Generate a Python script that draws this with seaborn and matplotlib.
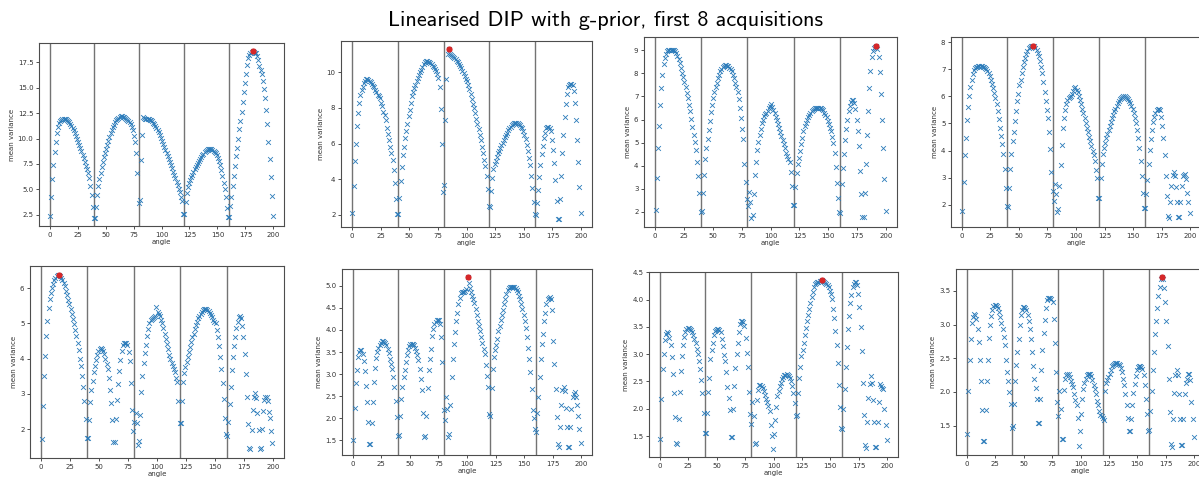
import numpy as np
import matplotlib
matplotlib.use("Agg")
import matplotlib.pyplot as plt
import seaborn as sns

# ---------------- data ----------------
title = "Linearised DIP with g-prior, first 8 acquisitions"
x_label = "angle"
y_label = "mean variance"
angles = np.arange(200) + 0.5
acq_boundaries = [0, 40, 80, 120, 160]
x_ticks = [0, 25, 50, 75, 100, 125, 150, 175, 200]

acq1 = [
    2.4, 4.2, 6.0, 7.4, 8.7, 9.7, 10.5, 11.1, 11.5, 11.7,
    11.8, 11.9, 11.95, 11.95, 11.9, 11.85, 11.75, 11.6, 11.45, 11.25,
    11.05, 10.8, 10.55, 10.3, 10.0, 9.7, 9.4, 9.1, 8.75, 8.4,
    8.05, 7.7, 7.3, 7.0, 6.6, 6.1, 5.3, 4.4, 3.3, 2.2,
    2.2, 3.3, 4.4, 5.3, 6.0, 6.6, 7.2, 7.7, 8.2, 8.6,
    9.0, 9.4, 9.8, 10.15, 10.5, 10.8, 11.1, 11.35, 11.6, 11.8,
    11.95, 12.05, 12.15, 12.2, 12.2, 12.15, 12.1, 12.0, 11.9, 11.85,
    11.75, 11.6, 11.4, 11.15, 10.8, 10.3, 9.7, 8.6, 6.6, 3.6,
    3.9, 7.9, 10.4, 12.1, 12.0, 11.95, 11.9, 11.9, 11.9, 11.85,
    11.8, 11.7, 11.55, 11.4, 11.2, 11.0, 10.8, 10.6, 10.35, 10.05,
    9.75, 9.45, 9.15, 8.85, 8.55, 8.25, 7.95, 7.65, 7.35, 7.05,
    6.75, 6.45, 6.1, 5.75, 5.4, 5.05, 4.7, 4.2, 3.8, 2.6,
    2.6, 3.7, 4.6, 5.2, 5.6, 5.9, 6.2, 6.45, 6.7, 6.95,
    7.2, 7.4, 7.6, 7.8, 8.0, 8.2, 8.35, 8.5, 8.65, 8.8,
    8.9, 8.95, 9.0, 9.0, 8.95, 8.9, 8.8, 8.7, 8.55, 8.35,
    8.1, 7.8, 7.4, 6.9, 6.3, 5.6, 5.0, 4.2, 3.2, 2.3,
    2.3, 3.35, 4.25, 5.3, 6.3, 7.3, 8.25, 9.1, 10.0, 10.9,
    11.75, 12.65, 13.65, 14.55, 15.5, 16.4, 17.25, 17.9, 18.25, 18.45,
    18.55, 18.6, 18.5, 18.45, 18.4, 18.1, 17.7, 17.2, 16.8, 16.4,
    15.7, 14.9, 14.0, 12.85, 11.4, 9.7, 8.0, 6.2, 4.3, 2.4,
]
acq2 = [
    2.1, 3.6, 5.0, 6.0, 7.0, 7.7, 8.3, 8.7, 9.0, 9.2,
    9.4, 9.5, 9.6, 9.6, 9.55, 9.5, 9.45, 9.35, 9.25, 9.15,
    9.0, 8.9, 8.75, 8.65, 8.55, 8.3, 8.1, 7.8, 7.6, 7.3,
    6.9, 6.55, 6.2, 5.8, 5.5, 5.1, 4.5, 3.8, 2.9, 2.05,
    2.05, 2.95, 3.9, 4.7, 5.35, 5.8, 6.3, 6.7, 7.1, 7.55,
    7.9, 8.3, 8.65, 8.9, 9.1, 9.3, 9.5, 9.7, 9.85, 10.0,
    10.15, 10.3, 10.45, 10.6, 10.65, 10.65, 10.6, 10.55, 10.5, 10.45,
    10.35, 10.3, 10.2, 10.05, 9.9, 9.7, 9.2, 7.95, 6.0, 3.3,
    3.7, 7.3, 9.65, 11.05, 11.28, 11.05, 10.95, 10.9, 10.85, 10.8,
    10.75, 10.65, 10.55, 10.45, 10.35, 10.25, 10.1, 9.95, 9.8, 9.65,
    9.5, 9.3, 9.05, 8.8, 8.5, 8.2, 8.0, 7.7, 7.4, 7.1,
    6.8, 6.5, 6.2, 5.8, 5.45, 5.1, 4.75, 4.2, 3.45, 2.5,
    2.45, 3.35, 4.1, 4.6, 4.85, 5.05, 5.25, 5.45, 5.6, 5.75,
    5.9, 6.05, 6.2, 6.35, 6.5, 6.6, 6.75, 6.85, 6.95, 7.05,
    7.1, 7.15, 7.15, 7.15, 7.15, 7.1, 7.05, 6.95, 6.85, 6.7,
    6.5, 6.25, 5.95, 5.6, 5.2, 4.8, 4.2, 3.5, 2.7, 2.05,
    2.0, 2.65, 3.4, 4.15, 4.8, 5.4, 5.85, 6.3, 6.6, 6.85,
    6.95, 6.95, 6.9, 6.7, 6.2, 5.65, 4.9, 3.95, 2.8, 1.8,
    1.8, 2.9, 4.2, 5.45, 6.5, 7.5, 8.2, 8.8, 9.2, 9.3,
    9.35, 9.35, 9.3, 8.95, 8.3, 7.3, 6.2, 4.95, 3.55, 2.1,
]
acq3 = [
    2.07, 3.48, 4.78, 5.74, 6.65, 7.37, 7.95, 8.4, 8.67, 8.85,
    8.95, 9.0, 9.03, 9.03, 9.03, 9.03, 9.0, 8.95, 8.88, 8.77,
    8.6, 8.45, 8.24, 8.02, 7.83, 7.63, 7.4, 7.15, 6.94, 6.65,
    6.36, 6.03, 5.69, 5.31, 5.04, 4.68, 4.17, 3.55, 2.8, 2.0,
    2.04, 2.8, 3.6, 4.27, 4.78, 5.15, 5.55, 5.95, 6.32, 6.65,
    6.95, 7.2, 7.4, 7.6, 7.78, 7.95, 8.1, 8.2, 8.28, 8.33,
    8.35, 8.35, 8.33, 8.3, 8.25, 8.18, 8.08, 7.95, 7.8, 7.6,
    7.4, 7.2, 6.87, 6.5, 6.05, 5.6, 5.14, 4.09, 3.3, 2.57,
    2.25, 2.85, 2.45, 1.72, 1.85, 2.76, 3.6, 4.16, 4.66, 5.02,
    5.31, 5.6, 5.85, 6.0, 6.15, 6.22, 6.28, 6.35, 6.5, 6.6,
    6.68, 6.55, 6.42, 6.28, 6.12, 5.97, 5.8, 5.62, 5.45, 5.27,
    5.1, 4.92, 4.75, 4.57, 4.42, 4.28, 4.16, 3.73, 3.1, 2.3,
    2.3, 3.08, 3.67, 4.06, 4.35, 4.63, 4.92, 5.2, 5.5, 5.7,
    5.85, 6.0, 6.1, 6.2, 6.3, 6.35, 6.4, 6.45, 6.48, 6.5,
    6.5, 6.5, 6.5, 6.48, 6.45, 6.4, 6.3, 6.2, 6.1, 5.95,
    5.8, 5.65, 5.5, 5.25, 5.0, 4.56, 3.95, 3.27, 2.62, 1.99,
    1.97, 3.19, 3.88, 4.52, 5.1, 5.57, 6.0, 6.36, 6.6, 6.75,
    6.84, 6.84, 6.7, 6.45, 6.0, 5.5, 4.85, 3.77, 2.76, 1.78,
    1.78, 2.84, 4.06, 5.31, 6.36, 7.37, 8.09, 8.7, 8.95, 9.1,
    9.15, 9.2, 9.05, 8.71, 8.05, 7.11, 6.0, 4.78, 3.41, 2.04,
]
acq4 = [
    1.79, 2.83, 3.82, 4.47, 5.12, 5.6, 6.0, 6.33, 6.6, 6.82,
    6.96, 7.04, 7.08, 7.1, 7.12, 7.13, 7.13, 7.12, 7.1, 7.08,
    7.05, 7.0, 6.93, 6.85, 6.75, 6.6, 6.45, 6.3, 6.12, 5.94,
    5.7, 5.45, 5.15, 4.85, 4.55, 4.25, 3.88, 3.33, 2.63, 1.95,
    1.93, 2.63, 3.33, 3.88, 4.34, 4.7, 5.08, 5.45, 5.82, 6.1,
    6.4, 6.6, 6.86, 7.08, 7.26, 7.41, 7.57, 7.69, 7.78, 7.83,
    7.85, 7.86, 7.87, 7.84, 7.78, 7.7, 7.6, 7.47, 7.3, 7.1,
    6.86, 6.52, 6.16, 5.82, 5.5, 5.2, 4.7, 4.04, 3.2, 2.5,
    2.14, 2.75, 2.4, 1.73, 1.83, 2.69, 3.45, 4.22, 4.83, 5.2,
    5.5, 5.73, 5.88, 5.94, 5.96, 6.0, 6.1, 6.2, 6.3, 6.34,
    6.25, 6.15, 6.02, 5.88, 5.72, 5.55, 5.38, 5.2, 5.02, 4.85,
    4.68, 4.5, 4.35, 4.16, 4.0, 3.82, 3.6, 3.3, 3.0, 2.25,
    2.25, 3.0, 3.52, 3.87, 4.1, 4.28, 4.45, 4.6, 4.77, 4.9,
    5.05, 5.2, 5.3, 5.45, 5.55, 5.66, 5.76, 5.84, 5.9, 5.95,
    5.98, 6.0, 6.0, 5.98, 5.95, 5.9, 5.84, 5.75, 5.65, 5.55,
    5.4, 5.2, 5.0, 4.77, 4.47, 4.1, 3.6, 3.05, 2.45, 1.88,
    1.89, 2.4, 2.9, 3.51, 4.01, 4.43, 4.77, 5.04, 5.24, 5.39,
    5.51, 5.55, 5.55, 5.51, 5.24, 4.92, 4.47, 3.85, 3.08, 2.32,
    1.58, 1.5, 2.1, 2.69, 3.1, 3.22, 3.05, 2.65, 2.1, 1.55,
    1.55, 2.1, 2.7, 3.05, 3.1, 3.12, 2.95, 2.45, 2.1, 1.7,
]
acq5 = [
    1.71, 2.67, 3.5, 4.07, 4.64, 5.07, 5.43, 5.69, 5.86, 6.0,
    6.11, 6.22, 6.3, 6.34, 6.36, 6.38, 6.35, 6.3, 6.24, 6.15,
    6.05, 5.93, 5.8, 5.67, 5.54, 5.4, 5.26, 5.12, 4.97, 4.82,
    4.65, 4.45, 4.24, 4.0, 3.78, 3.52, 3.2, 2.8, 2.29, 1.76,
    1.76, 2.26, 2.76, 3.1, 3.36, 3.62, 3.78, 3.95, 4.1, 4.22,
    4.27, 4.29, 4.27, 4.22, 4.14, 4.0, 3.85, 3.71, 3.46, 3.11,
    2.73, 2.26, 1.65, 1.65, 2.3, 2.83, 3.29, 3.64, 3.95, 4.22,
    4.38, 4.45, 4.45, 4.43, 4.38, 4.2, 3.93, 3.3, 2.55, 1.94,
    2.2, 2.47, 2.17, 1.56, 1.66, 2.4, 3.05, 3.5, 3.88, 4.16,
    4.4, 4.64, 4.83, 5.0, 5.1, 5.12, 5.15, 5.17, 5.22, 5.46,
    5.33, 5.27, 5.2, 5.1, 5.0, 4.86, 4.71, 4.55, 4.41, 4.26,
    4.1, 3.98, 3.88, 3.8, 3.71, 3.62, 3.45, 3.33, 2.81, 2.17,
    2.17, 2.81, 3.33, 3.6, 3.76, 3.9, 4.05, 4.19, 4.33, 4.46,
    4.6, 4.71, 4.84, 4.95, 5.05, 5.14, 5.22, 5.28, 5.33, 5.37,
    5.4, 5.41, 5.4, 5.38, 5.34, 5.29, 5.24, 5.17, 5.1, 5.05,
    5.0, 4.8, 4.6, 4.35, 4.05, 3.7, 3.3, 2.86, 2.31, 1.86,
    1.81, 2.2, 2.7, 3.21, 3.67, 4.05, 4.36, 4.62, 4.86, 5.05,
    5.17, 5.2, 5.14, 4.92, 4.62, 4.14, 3.57, 2.92, 2.15, 1.48,
    1.43, 1.98, 2.55, 2.9, 3.02, 2.88, 2.47, 1.97, 1.45, 1.47,
    2.0, 2.52, 2.83, 2.9, 2.92, 2.8, 2.5, 2.33, 1.95, 1.6,
]
acq6 = [
    1.5, 2.23, 2.8, 3.1, 3.39, 3.5, 3.55, 3.54, 3.45, 3.3,
    3.08, 2.74, 2.38, 1.91, 1.42, 1.42, 1.89, 2.38, 2.82, 3.14,
    3.36, 3.5, 3.6, 3.66, 3.7, 3.74, 3.74, 3.73, 3.7, 3.65,
    3.58, 3.48, 3.35, 3.23, 3.11, 2.93, 2.7, 2.4, 2.02, 1.6,
    1.63, 2.05, 2.44, 2.7, 2.93, 3.1, 3.28, 3.44, 3.55, 3.63,
    3.68, 3.68, 3.68, 3.66, 3.6, 3.52, 3.44, 3.31, 3.12, 2.9,
    2.63, 2.11, 1.57, 1.59, 2.06, 2.68, 3.1, 3.35, 3.58, 3.86,
    4.03, 4.14, 4.18, 4.22, 4.23, 4.23, 4.14, 3.83, 3.27, 2.19,
    1.96, 2.49, 2.2, 1.57, 1.64, 2.31, 2.93, 3.35, 3.69, 3.95,
    4.2, 4.39, 4.58, 4.73, 4.83, 4.85, 4.85, 4.86, 4.88, 4.92,
    5.19, 5.07, 4.94, 4.86, 4.78, 4.7, 4.61, 4.48, 4.35, 4.2,
    4.09, 3.98, 3.84, 3.7, 3.58, 3.46, 3.2, 2.95, 2.7, 2.1,
    2.06, 2.69, 3.12, 3.39, 3.54, 3.67, 3.8, 3.97, 4.1, 4.22,
    4.35, 4.46, 4.6, 4.71, 4.81, 4.9, 4.96, 4.98, 4.98, 4.98,
    4.98, 4.97, 4.95, 4.9, 4.85, 4.78, 4.7, 4.6, 4.48, 4.35,
    4.2, 4.05, 3.84, 3.6, 3.35, 3.05, 2.67, 2.19, 2.0, 1.76,
    1.7, 2.11, 2.48, 2.93, 3.35, 3.69, 3.92, 4.2, 4.39, 4.58,
    4.7, 4.73, 4.75, 4.71, 4.46, 3.76, 3.23, 2.67, 2.02, 1.42,
    1.36, 1.8, 2.3, 2.64, 2.7, 2.62, 2.24, 1.8, 1.36, 1.36,
    1.8, 2.22, 2.48, 2.55, 2.6, 2.48, 2.3, 2.05, 1.75, 1.45,
]
acq7 = [
    1.45, 2.18, 2.73, 3.0, 3.26, 3.37, 3.4, 3.38, 3.3, 3.17,
    2.94, 2.63, 2.29, 1.85, 1.37, 1.36, 1.82, 2.3, 2.7, 2.97,
    3.17, 3.32, 3.41, 3.46, 3.48, 3.48, 3.46, 3.44, 3.4, 3.35,
    3.28, 3.2, 3.1, 3.0, 2.88, 2.72, 2.52, 2.29, 1.92, 1.55,
    1.56, 1.93, 2.3, 2.57, 2.91, 3.08, 3.2, 3.35, 3.42, 3.45,
    3.46, 3.46, 3.44, 3.4, 3.28, 3.14, 2.99, 2.87, 2.67, 2.4,
    2.2, 1.98, 1.48, 1.48, 1.99, 2.41, 2.74, 3.0, 3.21, 3.4,
    3.55, 3.6, 3.6, 3.58, 3.52, 3.3, 3.02, 2.76, 2.3, 1.9,
    1.72, 2.13, 1.86, 1.36, 1.37, 2.16, 2.35, 2.44, 2.44, 2.42,
    2.38, 2.32, 2.25, 2.18, 2.13, 2.05, 1.95, 1.71, 1.5, 1.27,
    1.53, 1.8, 2.04, 2.23, 2.32, 2.41, 2.48, 2.55, 2.59, 2.62,
    2.62, 2.63, 2.62, 2.6, 2.56, 2.5, 2.41, 2.29, 2.1, 1.86,
    1.88, 2.28, 2.56, 2.77, 2.96, 3.07, 3.2, 3.35, 3.48, 3.6,
    3.72, 3.82, 3.93, 4.04, 4.14, 4.23, 4.29, 4.31, 4.33, 4.33,
    4.34, 4.34, 4.35, 4.34, 4.33, 4.31, 4.29, 4.27, 4.23, 4.16,
    4.1, 4.01, 3.82, 3.66, 3.43, 3.17, 2.83, 2.44, 2.04, 1.65,
    1.62, 2.0, 2.36, 2.76, 3.13, 3.46, 3.69, 3.93, 4.09, 4.23,
    4.28, 4.33, 4.33, 4.27, 4.11, 3.86, 3.5, 3.05, 2.48, 1.88,
    1.34, 1.28, 1.75, 2.2, 2.45, 2.6, 2.48, 2.16, 1.75, 1.3,
    1.3, 1.75, 2.13, 2.45, 2.42, 2.38, 2.36, 2.0, 1.7, 1.42,
]
acq8 = [
    1.37, 2.02, 2.48, 2.79, 3.03, 3.12, 3.16, 3.15, 3.09, 2.94,
    2.74, 2.47, 2.16, 1.73, 1.27, 1.27, 1.73, 2.17, 2.47, 2.8,
    2.99, 3.13, 3.21, 3.27, 3.29, 3.29, 3.27, 3.24, 3.19, 3.12,
    3.03, 2.94, 2.82, 2.69, 2.47, 2.3, 2.17, 2.0, 1.82, 1.47,
    1.5, 1.82, 2.17, 2.4, 2.59, 2.79, 2.99, 3.14, 3.22, 3.26,
    3.26, 3.24, 3.21, 3.15, 3.05, 2.94, 2.79, 2.6, 2.39, 2.2,
    2.06, 1.9, 1.54, 1.54, 1.9, 2.32, 2.62, 2.88, 3.07, 3.24,
    3.37, 3.4, 3.4, 3.4, 3.38, 3.33, 3.09, 2.72, 2.3, 1.85,
    1.64, 2.02, 1.75, 1.3, 1.3, 2.03, 2.2, 2.25, 2.27, 2.27,
    2.22, 2.17, 2.12, 2.07, 1.97, 1.88, 1.81, 1.62, 1.2, 1.42,
    1.67, 1.9, 2.05, 2.13, 2.2, 2.25, 2.27, 2.27, 2.26, 2.23,
    2.18, 2.11, 2.05, 1.97, 1.87, 1.8, 1.72, 1.66, 1.64, 1.61,
    1.58, 2.02, 2.13, 2.18, 2.22, 2.27, 2.33, 2.38, 2.4, 2.42,
    2.43, 2.43, 2.43, 2.42, 2.4, 2.36, 2.3, 2.2, 2.1, 1.97,
    1.81, 1.62, 1.42, 1.42, 1.6, 1.8, 1.98, 2.12, 2.24, 2.33,
    2.37, 2.38, 2.38, 2.37, 2.34, 2.25, 2.1, 1.9, 1.67, 1.42,
    1.43, 1.72, 2.02, 2.33, 2.6, 2.86, 3.05, 3.25, 3.42, 3.56,
    3.68, 3.7, 3.68, 3.55, 3.33, 3.05, 2.68, 2.2, 1.7, 1.23,
    1.19, 1.6, 1.99, 2.25, 2.33, 2.25, 1.97, 1.6, 1.22, 1.22,
    1.6, 1.97, 2.13, 2.2, 2.26, 2.26, 2.18, 1.85, 1.6, 1.33,
]

y_ticks = [
    [2.5, 5.0, 7.5, 10.0, 12.5, 15.0, 17.5],
    [2, 4, 6, 8, 10],
    [2, 3, 4, 5, 6, 7, 8, 9],
    [2, 3, 4, 5, 6, 7, 8],
    [2, 3, 4, 5, 6],
    [1.5, 2.0, 2.5, 3.0, 3.5, 4.0, 4.5, 5.0],
    [1.5, 2.0, 2.5, 3.0, 3.5, 4.0, 4.5],
    [1.5, 2.0, 2.5, 3.0, 3.5],
]
panels = [acq1, acq2, acq3, acq4, acq5, acq6, acq7, acq8]

# ---------------- layout (pixel boxes: left, top, right, bottom) ----------------
W, H = 1199, 478
boxes = [
    (39, 43, 284, 226), (341, 41, 592, 227), (644, 37, 897, 227), (951, 37, 1201, 227),
    (30, 266, 284, 458), (342, 269, 592, 455), (649, 272, 898, 457), (956, 269, 1205, 455),
]

fig = plt.figure(figsize=(W / 100, H / 100), dpi=100)
fig.patch.set_facecolor("white")
FS = 5

for vals, yt, (l, t, r, b) in zip(panels, y_ticks, boxes):
    assert len(vals) == len(angles), len(vals)
    ax = fig.add_axes([l / W, 1 - b / H, (r - l) / W, (b - t) / H])
    vals = np.asarray(vals)
    sns.scatterplot(x=angles, y=vals, marker="x", color="#2b7bba", s=12,
                    linewidth=0.6, ax=ax, legend=False, zorder=2)
    i = int(np.argmax(vals))
    sns.scatterplot(x=[angles[i]], y=[vals[i]], marker="o", color="#d62728", s=20,
                    linewidth=0, ax=ax, legend=False, zorder=3)
    for xb in acq_boundaries:
        ax.axvline(xb, color="0.45", linewidth=1.0, zorder=1)
    ax.set_xticks(x_ticks)
    ax.set_yticks(yt)
    ax.tick_params(labelsize=FS, length=2.5, width=0.6, pad=1.5, colors="0.2")
    ax.set_xlabel(x_label, fontsize=FS, labelpad=1, color="0.2")
    ax.set_ylabel(y_label, fontsize=FS, labelpad=2, color="0.2")
    for sp in ax.spines.values():
        sp.set_linewidth(0.8)
        sp.set_color("0.3")

fig.text(0.505, 0.957, title, ha="center", va="center", fontsize=16,
         family=["cmss10", "DejaVu Sans"])

fig.savefig("out.png", dpi=100)
